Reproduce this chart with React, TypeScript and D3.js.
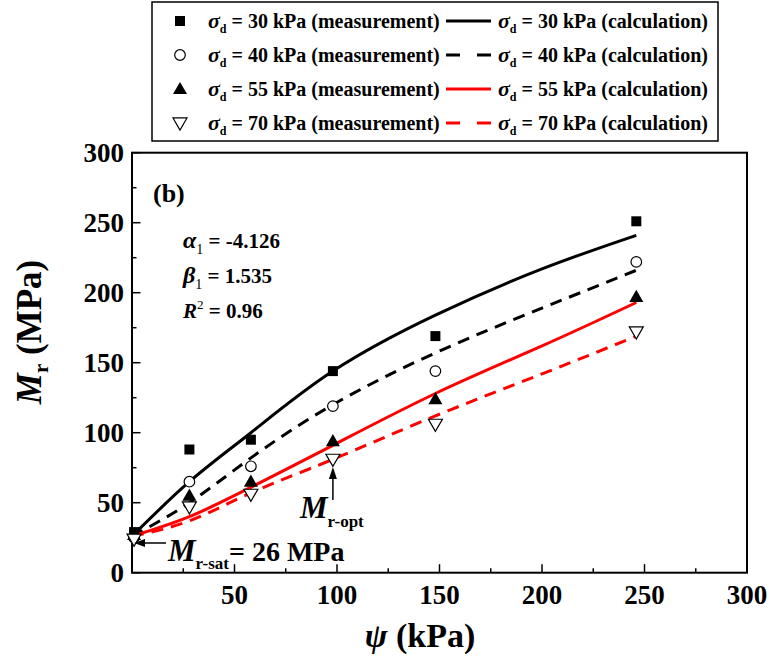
import React from "react";
import * as d3 from "d3";

const psiMeas = [1, 28, 58, 98, 148, 246];
const meas30 = [29, 88, 95, 144, 169, 251];
const meas40 = [25, 65, 76, 119, 144, 222];
const meas55 = [27, 55, 65, 94, 124, 197];
const meas70 = [24, 47, 56, 81, 106, 172];

const psiCalc = [0, 28, 58, 98, 148, 200, 246];
const calc30 = [26, 65, 100, 144, 184, 217, 241];
const calc40 = [26, 50, 82, 120, 157, 189, 216];
const calc55 = [26, 40, 61, 91, 128, 162, 193];
const calc70 = [26, 37, 57, 81, 112, 142, 169];

const sigmaLabels = ["30", "40", "55", "70"];
const xTicks = [50, 100, 150, 200, 250, 300];
const yTicks = [0, 50, 100, 150, 200, 250, 300];

const FONT = "'Liberation Serif', 'Times New Roman', serif";

export default function App() {
  const W = 773, H = 657;
  const L = 132, R = 747, T = 152.7, B = 572.7;
  const x = d3.scaleLinear().domain([0, 300]).range([L, R]);
  const y = d3.scaleLinear().domain([0, 300]).range([B, T]);

  const line = d3
    .line<number>()
    .x((_, i) => x(psiCalc[i]))
    .y((d) => y(d))
    .curve(d3.curveNatural);

  const calcs = [
    { v: calc30, color: "#000", dash: "none" },
    { v: calc40, color: "#000", dash: "12,8" },
    { v: calc55, color: "#ff0000", dash: "none" },
    { v: calc70, color: "#ff0000", dash: "12,8" },
  ];

  const sq = d3.symbol().type(d3.symbolSquare).size(100)() as string;
  const tri = d3.symbol().type(d3.symbolTriangle).size(85)() as string;

  const marker = (k: number, cx: number, cy: number, key: string) => {
    if (k === 0) return <path key={key} d={sq} transform={`translate(${cx},${cy})`} fill="#000" />;
    if (k === 1)
      return <circle key={key} cx={cx} cy={cy} r={5.3} fill="#fff" stroke="#000" strokeWidth={1.2} />;
    if (k === 2) return <path key={key} d={tri} transform={`translate(${cx},${cy + 1})`} fill="#000" />;
    return (
      <path key={key} d={tri} transform={`translate(${cx},${cy - 1}) rotate(180)`} fill="#fff" stroke="#000" strokeWidth={1.2} />
    );
  };

  const measSets = [meas30, meas40, meas55, meas70];
  const minor = d3.range(25, 300, 50);

  const legendRows = [21, 55, 89, 123];

  const sigmaText = (s: string, kind: string, tx: number, ty: number) => (
    <text x={tx} y={ty} fontFamily={FONT} fontWeight="bold" fontSize={20}>
      <tspan fontStyle="italic" fontSize={22}>σ</tspan>
      <tspan fontSize={12} dy={5}>d</tspan>
      <tspan dy={-5}>{` = ${s} kPa (${kind})`}</tspan>
    </text>
  );

  return (
    <svg width={W} height={H} style={{ display: "block", position: "absolute", left: 0, top: 0 }}>
      <rect x={0} y={0} width={W} height={H} fill="#fff" />
      {/* legend */}
      <rect x={152} y={2} width={566} height={139} fill="#fff" stroke="#000" strokeWidth={1.5} />
      {legendRows.map((ry, i) => (
        <g key={"lg" + i}>
          {marker(i, 180, ry, "lm" + i)}
          {sigmaText(sigmaLabels[i], "measurement", 208, ry + 7)}
          <line
            x1={446}
            x2={491}
            y1={ry}
            y2={ry}
            stroke={calcs[i].color}
            strokeWidth={3}
            strokeDasharray={calcs[i].dash === "none" ? undefined : "14,17"}
          />
          {sigmaText(sigmaLabels[i], "calculation", 498, ry + 7)}
        </g>
      ))}

      {/* plot frame */}
      <rect x={L} y={T} width={R - L} height={B - T} fill="none" stroke="#000" strokeWidth={2} />

      {/* x ticks */}
      {xTicks.map((t) => (
        <g key={"xt" + t}>
          <line x1={x(t)} x2={x(t)} y1={B} y2={B - 8.5} stroke="#000" strokeWidth={1.5} />
          <text x={x(t)} y={B + 31} textAnchor="middle" fontFamily={FONT} fontWeight="bold" fontSize={27}>
            {t}
          </text>
        </g>
      ))}
      {minor.map((t) => (
        <line key={"xm" + t} x1={x(t)} x2={x(t)} y1={B} y2={B - 4.5} stroke="#000" strokeWidth={1.5} />
      ))}
      {/* y ticks */}
      {yTicks.map((t) => (
        <g key={"yt" + t}>
          <line x1={L} x2={L + 8.5} y1={y(t)} y2={y(t)} stroke="#000" strokeWidth={1.5} />
          <text x={L - 8} y={y(t) + 9} textAnchor="end" fontFamily={FONT} fontWeight="bold" fontSize={27}>
            {t}
          </text>
        </g>
      ))}
      {minor.map((t) => (
        <line key={"ym" + t} x1={L} x2={L + 4.5} y1={y(t)} y2={y(t)} stroke="#000" strokeWidth={1.5} />
      ))}

      {/* axis titles */}
      <text x={420} y={647} textAnchor="middle" fontFamily={FONT} fontWeight="bold" fontSize={34}>
        <tspan fontStyle="italic">ψ</tspan>
        <tspan> (kPa)</tspan>
      </text>
      <text
        transform={`translate(41,${332}) rotate(-90)`}
        textAnchor="middle"
        fontFamily={FONT}
        fontWeight="bold"
        fontSize={35}
      >
        <tspan fontStyle="italic">M</tspan>
        <tspan fontSize={21} dy={7}>r</tspan>
        <tspan dy={-7}> (MPa)</tspan>
      </text>

      {/* curves */}
      {calcs.map((c, i) => (
        <path
          key={"c" + i}
          d={line(c.v) as string}
          fill="none"
          stroke={c.color}
          strokeWidth={3}
          strokeDasharray={c.dash === "none" ? undefined : c.dash}
        />
      ))}

      {/* measurements */}
      {measSets.map((s, k) => s.map((v, i) => marker(k, x(psiMeas[i]), y(v), `m${k}-${i}`)))}

      {/* annotations */}
      <text x={153} y={202} fontFamily={FONT} fontWeight="bold" fontSize={26}>(b)</text>
      <text x={183} y={248} fontFamily={FONT} fontWeight="bold" fontSize={21}>
        <tspan fontStyle="italic" fontSize={24}>α</tspan>
        <tspan fontSize={14} fontWeight="normal" dy={6}>1</tspan>
        <tspan dy={-6}> = -4.126</tspan>
      </text>
      <text x={183} y={283} fontFamily={FONT} fontWeight="bold" fontSize={21}>
        <tspan fontStyle="italic" fontSize={24}>β</tspan>
        <tspan fontSize={14} fontWeight="normal" dy={6}>1</tspan>
        <tspan dy={-6}> = 1.535</tspan>
      </text>
      <text x={183} y={318} fontFamily={FONT} fontWeight="bold" fontSize={21}>
        <tspan fontStyle="italic">R</tspan>
        <tspan fontSize={13} fontWeight="normal" dy={-9}>2</tspan>
        <tspan dy={9}> = 0.96</tspan>
      </text>

      {/* Mr-sat */}
      <line x1={166} x2={142} y1={543} y2={543} stroke="#000" strokeWidth={1.5} />
      <path d="M134,543 L145,539 L145,547 Z" fill="#000" />
      <text x={168} y={561} fontFamily={FONT} fontWeight="bold" fontSize={28}>
        <tspan fontStyle="italic" fontSize={31}>M</tspan>
        <tspan fontSize={17} dy={8}>r-sat</tspan>
        <tspan dy={-8}>= 26 MPa</tspan>
      </text>

      {/* Mr-opt */}
      <line x1={x(98)} x2={x(98)} y1={500} y2={476} stroke="#000" strokeWidth={1.5} />
      <path d={`M${x(98)},467 L${x(98) - 4},479 L${x(98) + 4},479 Z`} fill="#000" />
      <text x={300} y={518} fontFamily={FONT} fontWeight="bold" fontSize={27}>
        <tspan fontStyle="italic" fontSize={31}>M</tspan>
        <tspan fontSize={17} dy={9}>r-opt</tspan>
      </text>
    </svg>
  );
}
